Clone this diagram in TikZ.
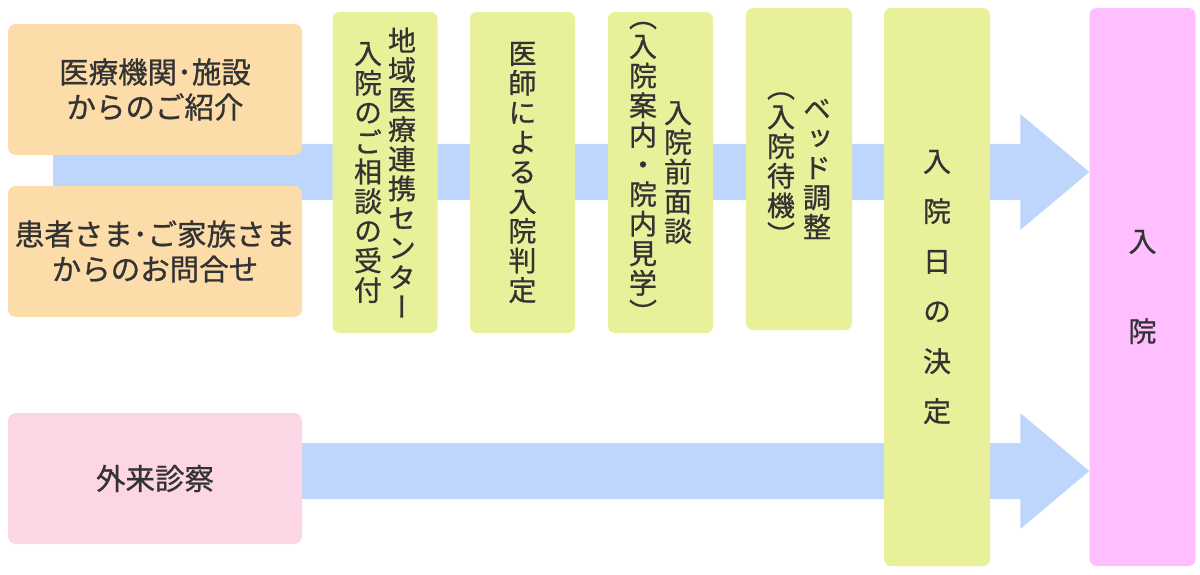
\documentclass[tikz,border=0pt]{standalone}
\usepackage{fontspec}
\newfontfamily\jp[FakeBold=0.8]{Noto Sans CJK JP}
\newfontfamily\jpv[RawFeature=+vert,FakeBold=0.8]{Noto Sans CJK JP}
\usetikzlibrary{calc,backgrounds}
\definecolor{bandblue}{RGB}{191,214,252}
\definecolor{orangebox}{RGB}{252,220,168}
\definecolor{pinkbox}{RGB}{252,214,229}
\definecolor{greenbox}{RGB}{232,241,153}
\definecolor{magentabox}{RGB}{255,190,255}
\definecolor{txt}{RGB}{51,51,51}
\newcommand\vcol[1]{$\vcenter{\let\\\cr\halign{\hfil##\hfil\cr#1\crcr}}$}
\newcommand\blockarrow[2]{%
  \fill[band] ($(#1)+(0,-28)$) -- ($(#2)+(-69,-28)$) -- ($(#2)+(-69,-58)$) --
    (#2) -- ($(#2)+(-69,58)$) -- ($(#2)+(-69,28)$) -- ($(#1)+(0,28)$) -- cycle;}
\begin{document}
\begin{tikzpicture}[x=1pt,y=-1pt,
  band/.style={fill=bandblue},
  hbox/.style={rectangle, rounded corners=8pt, minimum width=294pt, minimum height=131pt,
    inner sep=0pt, align=center, font=\jp\fontsize{29.5}{35}\selectfont, text=txt},
  vbox/.style={rectangle, rounded corners=7pt, fill=greenbox, inner sep=0pt,
    minimum width=105pt, text=txt, font=\jpv\fontsize{28}{29.6}\selectfont}]
\useasboundingbox (0,0) rectangle (1200,575);
% source boxes
\node[hbox, fill=orangebox] (src1) at (155,89.5) {医療機関･施設\\からのご紹介};
\node[hbox, fill=orangebox] (src2) at (155,251.5) {患者さま･ご家族さま\\からのお問合せ};
\node[hbox, fill=pinkbox] (gairai) at (155,478.5) {外来診察};
% vertical step boxes
\node[vbox, minimum height=321pt] (g1) at (385,172.5)
  {\vcol{入\\院\\の\\ご\\相\\談\\の\\受\\付}\hspace{6pt}\vcol{地\\域\\医\\療\\連\\携\\セ\\ン\\タ\\ー}};
\node[vbox, minimum height=321pt] (g2) at (522.5,172.5)
  {\vcol{医\\師\\に\\よ\\る\\入\\院\\判\\定}};
\node[vbox, minimum height=321pt] (g3) at (660.5,172.5)
  {\vcol{（\\入\\院\\案\\内\\・\\院\\内\\見\\学\\）}\hspace{7pt}\vcol{入\\院\\前\\面\\談}};
\node[vbox, minimum height=322pt, minimum width=106pt] (g4) at (799,169)
  {\vcol{（\\入\\院\\待\\機\\）}\hspace{8pt}\vcol{ベ\\ッ\\ド\\調\\整}};
\node[vbox, minimum height=558pt, minimum width=106pt, font=\jpv\fontsize{28}{50}\selectfont] (g5) at (937,287)
  {\vcol{入\\院\\日\\の\\決\\定}};
\node[vbox, fill=magentabox, minimum height=558pt, minimum width=106pt, font=\jpv\fontsize{28}{90}\selectfont] (nyuin) at (1142.5,287)
  {\vcol{入\\院}};
% arrows
\coordinate (s1) at (53,172);
\coordinate (s2) at (290,471);
\coordinate (t1) at (s1 -| nyuin.west);
\coordinate (t2) at (s2 -| nyuin.west);
\begin{scope}[on background layer]
\blockarrow{s1}{t1}
\blockarrow{s2}{t2}
\end{scope}
\end{tikzpicture}
\end{document}
